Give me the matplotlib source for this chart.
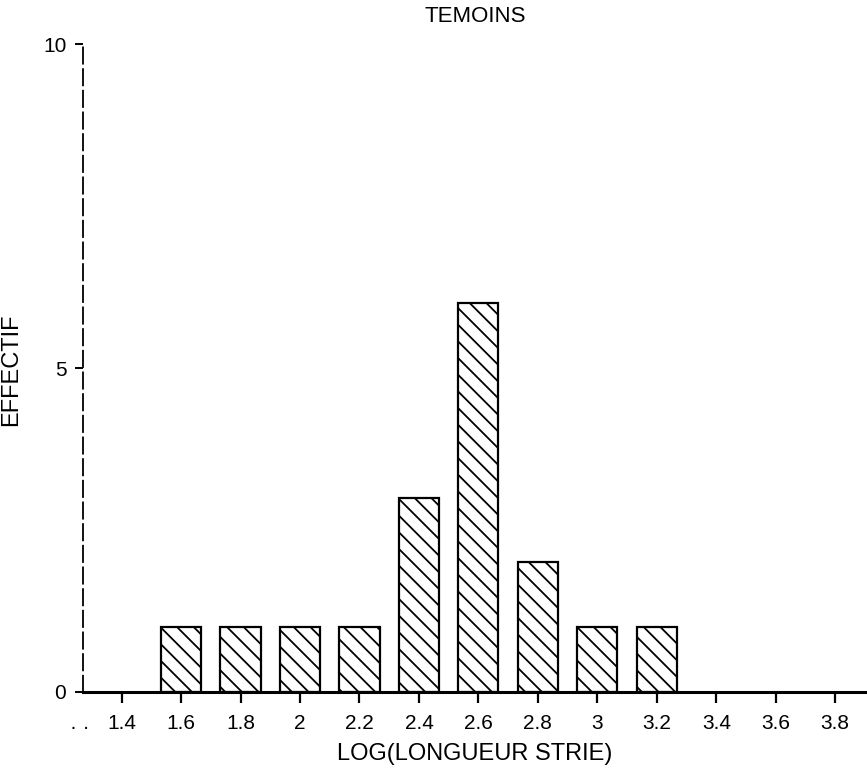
import matplotlib
matplotlib.use("Agg")
import matplotlib.pyplot as plt

# histogramme des temoins
classes = [1.6, 1.8, 2.0, 2.2, 2.4, 2.6, 2.8, 3.0, 3.2]
effectifs = [1, 1, 1, 1, 3, 6, 2, 1, 1]
xticks = [1.4, 1.6, 1.8, 2.0, 2.2, 2.4, 2.6, 2.8, 3.0, 3.2, 3.4, 3.6, 3.8]
xtick_labels = ["1.4", "1.6", "1.8", "2", "2.2", "2.4", "2.6", "2.8", "3", "3.2", "3.4", "3.6", "3.8"]
yticks = [0, 5, 10]

plt.rcParams['font.family'] = ['Liberation Sans', 'DejaVu Sans']
plt.rcParams['hatch.linewidth'] = 1.3

fig = plt.figure(figsize=(8.67, 7.82), dpi=100)
ax = fig.add_axes([0.0957, 0.1151, 0.9043, 0.8286])

ax.bar(classes, effectifs, width=0.135, color='white', edgecolor='black',
       linewidth=1.6, hatch='\\\\')

ax.set_xlim(1.27, 3.907)
ax.set_ylim(0, 10)
ax.set_xticks(xticks)
ax.set_xticklabels(xtick_labels)
ax.set_yticks(yticks)

for s in ['top', 'right']:
    ax.spines[s].set_visible(False)
ax.spines['left'].set_linestyle((0, (9, 3)))
ax.spines['left'].set_linewidth(1.3)
ax.spines['bottom'].set_linewidth(2.2)

ax.tick_params(axis='x', direction='out', length=8, width=1.6, labelsize=15, pad=8)
ax.tick_params(axis='y', direction='out', length=6, width=1.4, labelsize=15, pad=6)

ax.text(-0.004, -0.055, "· ·", transform=ax.transAxes, ha='center', va='center', fontsize=15)

ax.set_title("TEMOINS", fontsize=16, pad=16, x=0.5)
ax.set_xlabel("LOG(LONGUEUR STRIE)", fontsize=17, labelpad=7)
ax.set_ylabel("EFFECTIF", fontsize=17)
ax.yaxis.set_label_coords(-0.078, 0.497)

fig.savefig("out.png", dpi=100)
